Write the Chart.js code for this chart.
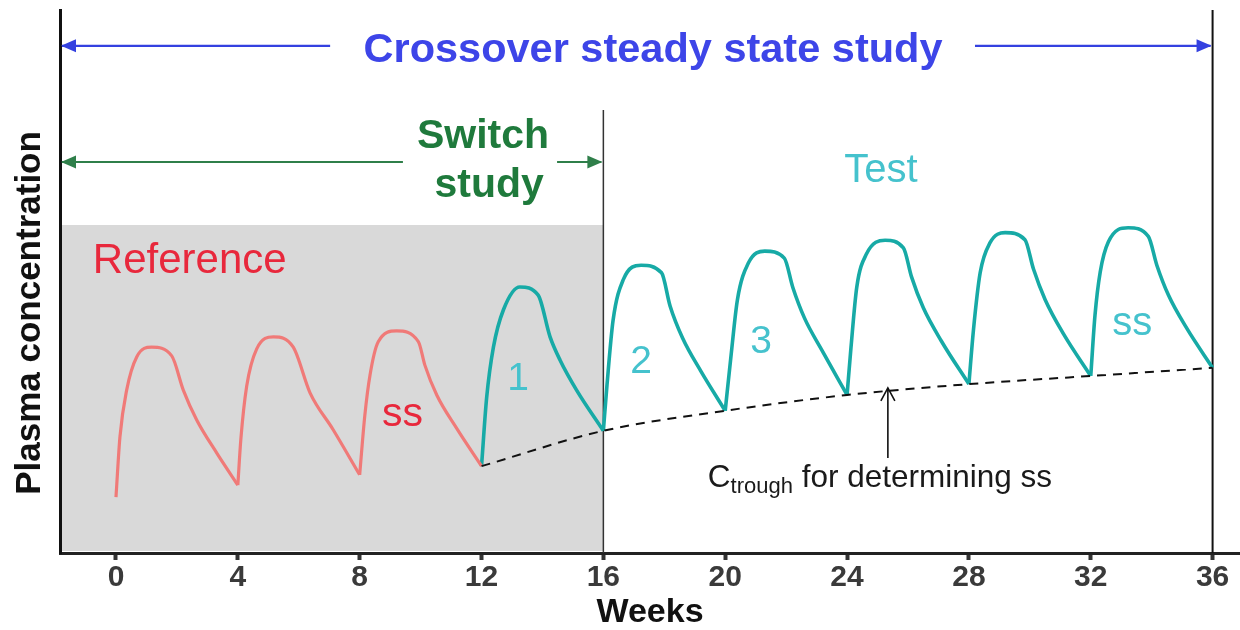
<!DOCTYPE html>
<html><head><meta charset="utf-8">
<script src="https://cdn.jsdelivr.net/npm/chart.js@4.4.1/dist/chart.umd.min.js"></script>
<style>html,body{margin:0;padding:0;background:#fff;}#wrap{width:1240px;height:630px;}</style>
</head><body><div id="wrap"><canvas id="c" width="1240" height="630"></canvas></div>
<script>
// ---------------- data ----------------
const tickWeeks = [0, 4, 8, 12, 16, 20, 24, 28, 32, 36];
const doseWeeks = [0, 4, 8, 12, 16, 20, 24, 28, 32, 36];

const referenceWeeks = [0, 0.13, 0.35, 0.68, 1.17, 1.83, 2.21, 2.65, 3.31, 4,
  4.1, 4.29, 4.62, 5.17, 5.82, 6.37, 7.13, 8,
  8.17, 8.34, 8.61, 9.21, 9.93, 10.14, 10.53, 11.18, 12];
const referenceConc = [10.3, 21.4, 30.0, 36.1, 37.9, 36.3, 30.0, 24.5, 18.4, 12.5,
  21.0, 30.7, 37.6, 39.8, 37.9, 29.5, 22.7, 14.4,
  25.4, 32.8, 38.9, 40.9, 38.9, 34.6, 29.1, 23.0, 16.0];

const testWeeks = [12, 12.17, 12.39, 12.72, 13.26, 13.86, 14.25, 14.58, 15.12, 16,
  16.12, 16.32, 16.65, 17.24, 17.91, 18.19, 18.6, 19.2, 20,
  20.2, 20.4, 20.76, 21.3, 21.94, 22.22, 22.6, 23.2, 24,
  24.13, 24.32, 24.64, 25.25, 25.85, 26.12, 26.5, 27.1, 28,
  28.15, 28.37, 28.69, 29.19, 29.84, 30.12, 30.5, 31.1, 32,
  32.14, 32.31, 32.58, 33.23, 33.89, 34.17, 34.55, 35.15, 36];
const testConc = [16.0, 28.7, 37.9, 44.8, 49.0, 47.5, 39.8, 35.5, 30.0, 22.5,
  31.0, 42.9, 50.3, 53.0, 51.6, 45.5, 39.6, 33.5, 26.2,
  36.8, 46.6, 53.4, 55.6, 54.3, 48.9, 43.3, 37.1, 29.1,
  37.9, 49.0, 55.1, 57.6, 56.2, 50.8, 45.2, 39.0, 31.1,
  41.1, 51.6, 57.1, 59.0, 57.7, 52.3, 46.7, 40.4, 32.6,
  43.8, 51.7, 57.3, 59.9, 58.3, 53.0, 47.5, 41.4, 34.1];

const troughWeeks = [12, 16, 20, 24, 28, 32, 36];
const troughConc = [16.0, 22.5, 26.2, 29.1, 31.1, 32.6, 34.1];

// ---------------- styles / layout ----------------
const FONT = '"Liberation Sans", Arial, Helvetica, sans-serif';
const RED_LINE = '#f07a78', TEAL_LINE = '#17aaa6';
const RED_TEXT = '#e8283c', TEAL_TEXT = '#45c2cd';
const BLUE_TEXT = '#3d45e8', BLUE_LINE = '#3441e0';
const GREEN_TEXT = '#1f7a3c', GREEN_LINE = '#2f7f4a';

// split a series into one segment per dosing interval (sharp troughs)
function splitByDose(weeks, conc) {
  const segs = []; let cur = [];
  weeks.forEach((w, i) => {
    const p = {x: w, y: conc[i]};
    cur.push(p);
    if (i > 0 && i < weeks.length - 1 && doseWeeks.includes(w)) { segs.push(cur); cur = [p]; }
  });
  segs.push(cur);
  return segs;
}

const datasets = [];
datasets.push({
  label: 'Ctrough', data: troughWeeks.map((w, i) => ({x: w, y: troughConc[i]})),
  borderColor: '#111', borderWidth: 2, borderDash: [9, 7], pointRadius: 0,
  cubicInterpolationMode: 'monotone', fill: false
});
splitByDose(referenceWeeks, referenceConc).forEach((seg, k) => datasets.push({
  label: 'Reference ' + (k + 1), data: seg, borderColor: RED_LINE, borderWidth: 3.2,
  pointRadius: 0, cubicInterpolationMode: 'monotone', fill: false
}));
splitByDose(testWeeks, testConc).forEach((seg, k) => datasets.push({
  label: 'Test ' + (k + 1), data: seg, borderColor: TEAL_LINE, borderWidth: 3.6,
  pointRadius: 0, cubicInterpolationMode: 'monotone', fill: false
}));

// annotation positions in data units (week, concentration)
const notes = {
  grayBox: {x1: 16, yTop: 60.4},
  switchLine: {x: 16, yTop: 81.6},
  endLine: {x: 36},
  blueArrow: {y: 93.4, leftEnd: 7.03, rightStart: 28.2, rightEnd: 36},
  greenArrow: {y: 72.0, leftEnd: 9.42, rightStart: 14.48, rightEnd: 16},
  troughArrow: {x: 25.34, yFrom: 17.5, yTo: 30.4}
};
const labels = [
  {text: 'Crossover steady state study', x: 17.63, y: 90.4, font: 'bold 41.5px', color: BLUE_TEXT, align: 'center'},
  {text: 'Switch', x: 12.05, y: 74.6, font: 'bold 41px', color: GREEN_TEXT, align: 'center'},
  {text: 'study', x: 12.25, y: 65.6, font: 'bold 41px', color: GREEN_TEXT, align: 'center'},
  {text: 'Test', x: 25.11, y: 68.3, font: '40px', color: TEAL_TEXT, align: 'center'},
  {text: 'Reference', x: -0.76, y: 51.6, font: '42px', color: RED_TEXT, align: 'left'},
  {text: 'ss', x: 8.73, y: 23.4, font: '41px', color: RED_TEXT, align: 'left'},
  {text: '1', x: 13.20, y: 30.0, font: '39px', color: TEAL_TEXT, align: 'center'},
  {text: '2', x: 17.24, y: 33.15, font: '39px', color: TEAL_TEXT, align: 'center'},
  {text: '3', x: 21.18, y: 36.8, font: '39px', color: TEAL_TEXT, align: 'center'},
  {text: 'ss', x: 33.36, y: 40.15, font: '40px', color: TEAL_TEXT, align: 'center'}
];
const ctroughNote = {x: 19.43, y: 12.15, subY: 11.05, main: 'C', sub: 'trough', rest: ' for determining ss'};
const yTitle = {text: 'Plasma concentration', x: -2.82, y: 44.2};

function arrowHead(ctx, x, y, dir, color) {
  ctx.save(); ctx.fillStyle = color; ctx.beginPath();
  ctx.moveTo(x, y); ctx.lineTo(x - dir * 15, y - 6.5); ctx.lineTo(x - dir * 15, y + 6.5);
  ctx.closePath(); ctx.fill(); ctx.restore();
}
function hLine(ctx, x0, x1, y, color, w) {
  ctx.save(); ctx.strokeStyle = color; ctx.lineWidth = w; ctx.beginPath();
  ctx.moveTo(x0, y); ctx.lineTo(x1, y); ctx.stroke(); ctx.restore();
}

const overlay = {
  id: 'overlay',
  beforeDatasetsDraw(chart) {
    const {ctx, chartArea: a, scales: {x, y}} = chart;
    ctx.save();
    ctx.fillStyle = '#d9d9d9';
    const top = y.getPixelForValue(notes.grayBox.yTop);
    ctx.fillRect(a.left + 2, top, x.getPixelForValue(notes.grayBox.x1) - a.left - 2, a.bottom - 2 - top);
    ctx.strokeStyle = '#333'; ctx.lineWidth = 1.5;
    const sx = x.getPixelForValue(notes.switchLine.x);
    ctx.beginPath(); ctx.moveTo(sx, y.getPixelForValue(notes.switchLine.yTop)); ctx.lineTo(sx, a.bottom); ctx.stroke();
    ctx.strokeStyle = '#111'; ctx.lineWidth = 2;
    const ex = x.getPixelForValue(notes.endLine.x);
    ctx.beginPath(); ctx.moveTo(ex, a.top); ctx.lineTo(ex, a.bottom); ctx.stroke();
    ctx.restore();
  },
  afterDatasetsDraw(chart) {
    const {ctx, chartArea: a, scales: {x, y}} = chart;
    const by = y.getPixelForValue(notes.blueArrow.y);
    hLine(ctx, a.left + 2, x.getPixelForValue(notes.blueArrow.leftEnd), by, BLUE_LINE, 2.2);
    arrowHead(ctx, a.left + 1, by, -1, BLUE_LINE);
    hLine(ctx, x.getPixelForValue(notes.blueArrow.rightStart), x.getPixelForValue(notes.blueArrow.rightEnd) - 2, by, BLUE_LINE, 2.2);
    arrowHead(ctx, x.getPixelForValue(notes.blueArrow.rightEnd) - 1, by, 1, BLUE_LINE);
    const gy = y.getPixelForValue(notes.greenArrow.y);
    hLine(ctx, a.left + 2, x.getPixelForValue(notes.greenArrow.leftEnd), gy, GREEN_LINE, 2);
    arrowHead(ctx, a.left + 1, gy, -1, GREEN_LINE);
    hLine(ctx, x.getPixelForValue(notes.greenArrow.rightStart), x.getPixelForValue(notes.greenArrow.rightEnd) - 2, gy, GREEN_LINE, 2);
    arrowHead(ctx, x.getPixelForValue(notes.greenArrow.rightEnd) - 1, gy, 1, GREEN_LINE);
    const tx = x.getPixelForValue(notes.troughArrow.x);
    const ty0 = y.getPixelForValue(notes.troughArrow.yFrom), ty1 = y.getPixelForValue(notes.troughArrow.yTo);
    ctx.save(); ctx.strokeStyle = '#111'; ctx.lineWidth = 1.6; ctx.beginPath();
    ctx.moveTo(tx, ty0); ctx.lineTo(tx, ty1);
    ctx.moveTo(tx - 7, ty1 + 13); ctx.lineTo(tx, ty1); ctx.lineTo(tx + 7, ty1 + 13); ctx.stroke(); ctx.restore();
    ctx.save(); ctx.textBaseline = 'alphabetic';
    labels.forEach(l => {
      ctx.font = l.font + ' ' + FONT; ctx.fillStyle = l.color; ctx.textAlign = l.align;
      ctx.fillText(l.text, x.getPixelForValue(l.x), y.getPixelForValue(l.y));
    });
    ctx.fillStyle = '#1a1a1a'; ctx.textAlign = 'left';
    let cx = x.getPixelForValue(ctroughNote.x);
    const cy = y.getPixelForValue(ctroughNote.y), csy = y.getPixelForValue(ctroughNote.subY);
    ctx.font = '31.5px ' + FONT; ctx.fillText(ctroughNote.main, cx, cy); cx += ctx.measureText(ctroughNote.main).width;
    ctx.font = '22px ' + FONT; ctx.fillText(ctroughNote.sub, cx, csy); cx += ctx.measureText(ctroughNote.sub).width;
    ctx.font = '31.5px ' + FONT; ctx.fillText(ctroughNote.rest, cx, cy);
    ctx.translate(x.getPixelForValue(yTitle.x), y.getPixelForValue(yTitle.y));
    ctx.rotate(-Math.PI / 2);
    ctx.font = 'bold 35px ' + FONT; ctx.fillStyle = '#111'; ctx.textAlign = 'center'; ctx.textBaseline = 'middle';
    ctx.fillText(yTitle.text, 0, 0);
    ctx.restore();
  }
};

new Chart(document.getElementById('c'), {
  type: 'line',
  data: {datasets},
  options: {
    responsive: false, animation: false, devicePixelRatio: 1,
    layout: {padding: {top: 10, right: 0, bottom: 0, left: 0}},
    plugins: {legend: {display: false}, tooltip: {enabled: false}},
    scales: {
      x: {
        type: 'linear', min: -1.838, max: 36.9,
        afterFit: s => { s.height = 77; },
        afterBuildTicks: s => { s.ticks = tickWeeks.map(v => ({value: v})); },
        grid: {display: true, drawOnChartArea: false, drawTicks: true, tickLength: 7, tickWidth: 4, tickColor: '#333', color: '#333'},
        border: {display: true, color: '#222', width: 3},
        ticks: {padding: 0, color: '#3a3a3a', font: {family: FONT, size: 30, weight: 'bold'}, maxRotation: 0, autoSkip: false},
        title: {display: true, text: 'Weeks', color: '#111', padding: {top: 0, bottom: 0}, font: {family: FONT, size: 34, weight: 'bold', lineHeight: 1.0}}
      },
      y: {
        type: 'linear', min: 0, max: 100,
        afterFit: s => { s.width = 60; },
        grid: {display: false},
        border: {display: true, color: '#111', width: 3},
        ticks: {display: false}
      }
    }
  },
  plugins: [overlay]
});
</script></body></html>
